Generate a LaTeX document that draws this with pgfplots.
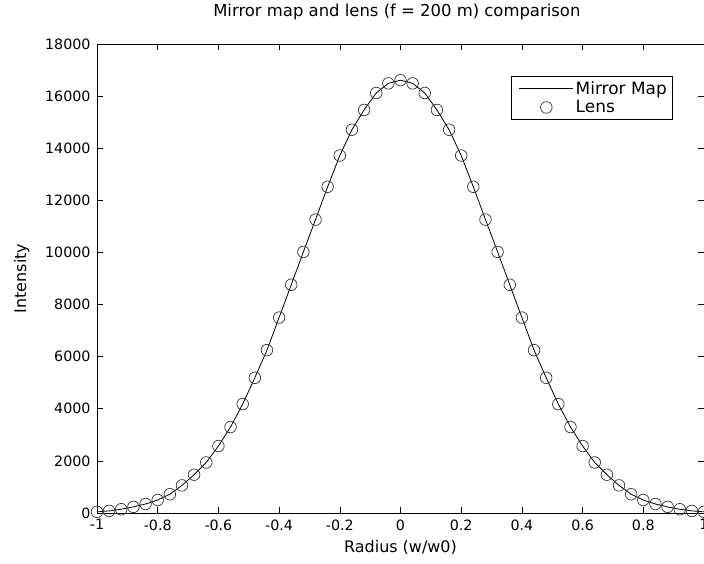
\documentclass[border=0pt]{standalone}
\usepackage{pgfplots}
\usepackage{pgfplotstable}
\pgfplotsset{compat=1.18}
\usepackage{fontspec}
\setmainfont{DejaVu Sans}
\pgfplotstableread{
x y
-1.00 45
-0.96 80
-0.92 145
-0.88 235
-0.84 345
-0.80 500
-0.76 720
-0.72 1060
-0.68 1470
-0.64 1940
-0.60 2570
-0.56 3300
-0.52 4180
-0.48 5190
-0.44 6250
-0.40 7500
-0.36 8760
-0.32 10020
-0.28 11260
-0.24 12520
-0.20 13720
-0.16 14710
-0.12 15470
-0.08 16120
-0.04 16490
0.00 16610
0.04 16490
0.08 16120
0.12 15470
0.16 14710
0.20 13720
0.24 12520
0.28 11260
0.32 10020
0.36 8760
0.40 7500
0.44 6250
0.48 5190
0.52 4180
0.56 3300
0.60 2570
0.64 1940
0.68 1470
0.72 1060
0.76 720
0.80 500
0.84 345
0.88 235
0.92 145
0.96 80
1.00 45
}\datatable
\begin{document}
\begin{tikzpicture}
\begin{axis}[
  name=ax,
  scale only axis,
  width=607bp, height=469bp,
  xmin=-1, xmax=1, ymin=0, ymax=18000,
  xtick={-1,-0.8,...,1.01},
  ytick={0,2000,...,18000},
  xticklabels={-1,-0.8,-0.6,-0.4,-0.2,0,0.2,0.4,0.6,0.8,1},
  scaled y ticks=false,
  /pgf/number format/assume math mode=true,
  yticklabel style={xshift=-3bp, /pgf/number format/.cd, fixed, 1000 sep={}},
  tick align=inside,
  major tick length=6bp,
  tick style={black, line width=0.6bp},
  axis line style={line width=0.8bp},
  tick label style={font=\fontsize{14.3}{16}\selectfont},
  xticklabel style={yshift=-3bp},
  label style={font=\fontsize{16}{19}\selectfont},
  title style={font=\fontsize{16.5}{19}\selectfont, at={(axis description cs:0.494,1.055)}, anchor=center},
  title={Mirror map and lens (f = 200 m) comparison},
  xlabel={Radius (w/w0)},
  ylabel={Intensity},
  xlabel style={at={(axis description cs:0.5,-0.0725)}, anchor=center},
  ylabel style={at={(axis description cs:-0.124,0.5)}, anchor=center},
  legend style={at={(0.949,0.932)}, anchor=north east, draw=black, line width=0.6bp,
    font=\fontsize{17}{20}\selectfont, inner xsep=4bp, inner ysep=3bp, row sep=1bp},
  legend cell align=left,
  legend image code/.code={\path (0bp,0bp); \draw[mark repeat=2,mark phase=2,#1] plot coordinates {(4bp,0bp) (31bp,0bp) (58bp,0bp)};},
]
\addplot[black, line width=0.8bp, no marks] table[x=x,y=y] {\datatable};
\addlegendentry{Mirror Map}
\addplot[only marks, mark=o, mark size=5.8bp, mark options={line width=0.7bp, draw=black!80}] table[x=x,y=y] {\datatable};
\addlegendentry{Lens}
\end{axis}
\pgfresetboundingbox
\path ([xshift=-97bp,yshift=-51bp]ax.south west) rectangle ([yshift=44bp]ax.north east);
\end{tikzpicture}
\end{document}
